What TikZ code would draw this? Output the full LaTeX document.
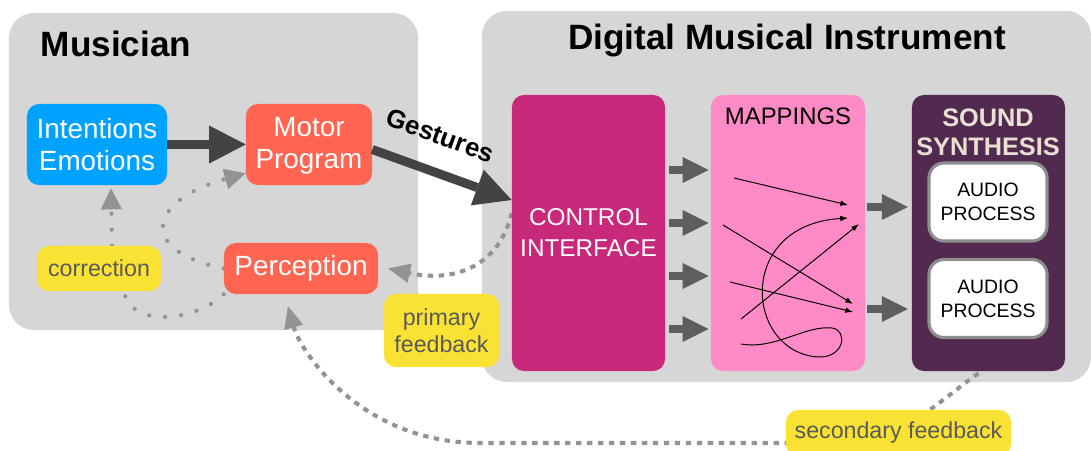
\documentclass[tikz,border=0pt]{standalone}
\usepackage{fontspec}
\setmainfont{Liberation Sans}
\usetikzlibrary{arrows.meta,calc}
\definecolor{boxgray}{HTML}{D6D6D6}
\definecolor{intentblue}{HTML}{00A2FF}
\definecolor{motorred}{HTML}{FF6550}
\definecolor{noteyellow}{HTML}{F9E234}
\definecolor{notetext}{HTML}{5A5A5A}
\definecolor{ctrlmagenta}{HTML}{C8297A}
\definecolor{mappink}{HTML}{FF8BC6}
\definecolor{synthpurple}{HTML}{532A4F}
\definecolor{synthtext}{HTML}{E8E1D3}
\definecolor{arrowdark}{HTML}{434343}
\definecolor{arrowgray}{HTML}{5E5E5E}
\definecolor{fbgray}{HTML}{939393}
\definecolor{audioborder}{HTML}{8E8E8E}
\pgfdeclarelayer{back}
\pgfdeclarelayer{mid}
\pgfsetlayers{back,mid,main}

\begin{document}
\begin{tikzpicture}[x=0.025cm,y=-0.025cm,
  group/.style={fill=boxgray,rounded corners=0.625cm,inner sep=0pt},
  grouptitle/.style={font=\bfseries\fontsize{25}{30}\selectfont,inner sep=0pt},
  mind/.style={text=white,rounded corners=0.3cm,inner sep=0pt,align=center,minimum height=2.025cm,font=\fontsize{19.8}{22.8}\selectfont},
  note/.style={fill=noteyellow,text=notetext,rounded corners=0.3cm,inner sep=0pt,align=center,font=\fontsize{16.5}{19.2}\selectfont},
  stage/.style={rounded corners=0.3cm,inner sep=0pt,minimum width=3.825cm,minimum height=6.9cm},
  audiobox/.style={fill=white,draw=audioborder,line width=2.2pt,rounded corners=0.375cm,minimum width=2.95cm,minimum height=1.95cm,inner sep=0pt,align=center,font=\fontsize{13.8}{17}\selectfont},
  bigarrow/.style={draw=arrowdark,line width=6.4pt,-{Triangle[length=26pt,width=27pt,line width=0pt]}},
  blockarrow/.style={draw=arrowgray,line width=5pt,-{Triangle[length=18.5pt,width=18.5pt,line width=0pt]}},
  maparrow/.style={line width=0.7pt,-{Latex[length=5.5pt,width=4pt]}},
  dotline/.style={draw=fbgray,line width=3pt,line cap=round,dash pattern=on 0pt off 11.4pt},
  dotfb/.style={dotline,-{Triangle[length=15pt,width=15pt,line width=0pt]}},
  sqfb/.style={draw=fbgray,line width=2.9pt,dash pattern=on 3.8pt off 4pt,-{Triangle[length=15.5pt,width=14pt,line width=0pt]}}]

\useasboundingbox (0,0) rectangle (1091,451);

\begin{pgfonlayer}{back}
\node[group,minimum width=10.225cm,minimum height=7.925cm] (musician) at (213.5,171.5) {};
\node[group,minimum width=15.225cm,minimum height=9.275cm] (dmi) at (786.5,196.5) {};
\node[grouptitle] (musttl) at (116,44) {Musician};
\node[grouptitle] (dmittl) at (787,40) {Digital Musical Instrument};
\end{pgfonlayer}

% musician side
\node[mind,fill=intentblue,minimum width=3.5cm] (intent) at (97,144.5) {Intentions\\Emotions};
\node[mind,fill=motorred,minimum width=3.15cm] (motor) at (309,144.5) {\strut Motor\\Program};
\node[mind,fill=motorred,minimum width=3.85cm,minimum height=1.275cm] (perc) at (301,268.5) {Perception};
\node[note,minimum width=3.1cm,minimum height=1.125cm] (corr) at (99,268.5) {correction};
\node[note,minimum width=2.875cm,minimum height=1.825cm] (prim) at (441.5,330.5) {primary\\feedback};
\node[note,minimum width=5.625cm,minimum height=1.15cm] (sec) at (898.5,433) {secondary feedback};

% instrument side
\node[stage,fill=ctrlmagenta,text=white,align=center,font=\fontsize{17.3}{22}\selectfont] (ci) at (588.5,233) {CONTROL\\INTERFACE};
\node[stage,fill=mappink,minimum width=3.85cm] (map) at (788,233) {};
\node[font=\fontsize{17}{20}\selectfont,inner sep=0pt] (mapttl) at (788,116) {MAPPINGS};
\node[stage,fill=synthpurple] (synth) at (988.5,233) {};
\node[font=\bfseries\fontsize{18}{20.6}\selectfont,text=synthtext,align=center,inner sep=0pt] (synthttl) at (988,132.5) {SOUND\\SYNTHESIS};
\node[audiobox] (aud1) at (988,202) {AUDIO\\PROCESS};
\node[audiobox] (aud2) at (988,298.5) {AUDIO\\PROCESS};

% arrows
\draw[bigarrow] (intent) -- (motor);
\draw[bigarrow] ($(motor.east)+(0,5)$) -- node[sloped,above=16pt,pos=0.4,inner sep=0pt,font=\bfseries\fontsize{18.4}{22}\selectfont] (gest) {Gestures} ($(ci.west)+(0,-33)$);
\foreach \y in {170,223,276,329}
  \draw[blockarrow,shorten <=2.8pt,shorten >=1.4pt] (ci.east |- 0,\y) -- (map.west |- 0,\y);
\foreach \y in {207,309}
  \draw[blockarrow,shorten <=1.4pt,shorten >=2.8pt] (map.east |- 0,\y) -- (synth.west |- 0,\y);

% mappings
\draw[maparrow] (734,178) -- (848,205);
\draw[maparrow] (723,225) -- (853,304);
\draw[maparrow] (730,282) -- (853,312);
\draw[maparrow] (741,319) -- (859,224);
\draw[maparrow] (741,344) .. controls (775,350) and (805,325) .. (832,328) .. controls (848,330) and (845,358) .. (818,357) .. controls (745,352) and (735,225) .. (848,218);

% feedback
\begin{pgfonlayer}{mid}
\draw[dotfb] (perc.west) .. controls (135,250) and (150,200) .. ($(motor.south west)+(0,-12)$);
\draw[dotline] (perc.south west) .. controls (195,322) and (130,328) .. ($(corr.south)+(25,0)$);
\draw[dotfb] ($(corr.north)+(13,0)$) -- ($(intent.south)+(14,3)$);
\draw[sqfb] ($(ci.west)+(0,-20)$) .. controls (498,270) and (450,282) .. ($(perc.east)+(10,0)$);
\draw[sqfb] ($(synth.south)+(-10,2)$) .. controls (940,400) and (900,443) .. (840,443) -- (480,443) .. controls (360,443) and (300,350) .. ($(perc.south)+(-13,12)$);
\end{pgfonlayer}

\end{tikzpicture}
\end{document}
